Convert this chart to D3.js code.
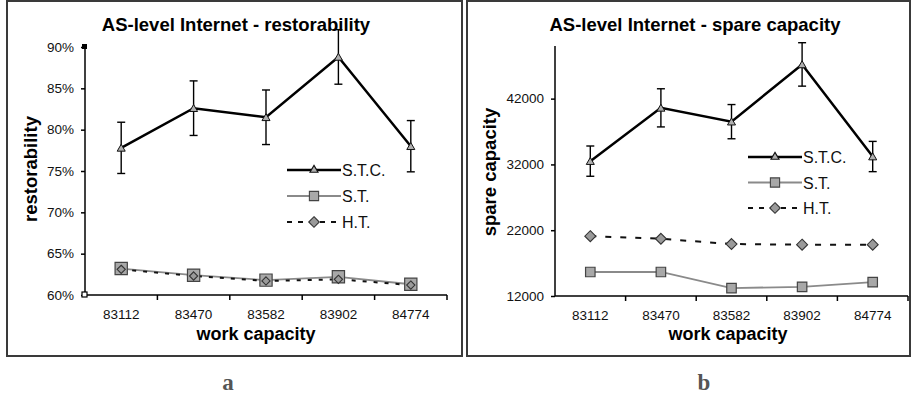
<!DOCTYPE html>
<html>
<head>
  <meta charset="utf-8">
  <script src="https://d3js.org/d3.v7.min.js"></script>
  <style>
    body { margin: 0; background: #fff; }
    text { font-family: "Liberation Sans", Arial, sans-serif; }
  </style>
</head>
<body>
<script>
// values
var workCapacity = ["83112", "83470", "83582", "83902", "84774"];
var seriesNames = ["S.T.C.", "S.T.", "H.T."];

var restorSTC = [77.8, 82.6, 81.5, 88.8, 78.0];
var restorSTCErr = [3.1, 3.3, 3.3, 3.3, 3.1];
var restorST = [63.2, 62.4, 61.8, 62.2, 61.3];
var restorHT = [63.1, 62.3, 61.7, 61.9, 61.2];
var restorTicks = [60, 65, 70, 75, 80, 85, 90];

var spareSTC = [32500, 40600, 38500, 47200, 33200];
var spareSTCErr = [2300, 2900, 2600, 3300, 2300];
var spareST = [15650, 15650, 13200, 13400, 14100];
var spareHT = [21100, 20700, 19900, 19800, 19800];
var spareTicks = [12000, 22000, 32000, 42000];

var svg = d3.select("body").append("svg")
  .attr("width", 912).attr("height", 399);

// square turned 45 degrees, like Excel's diamond marker
function diamond(size) {
  var h = Math.sqrt(size) / Math.SQRT2;
  return "M0," + (-h) + "L" + h + ",0L0," + h + "L" + (-h) + ",0Z";
}

function drawPanel(p) {
  var g = svg.append("g");

  // frame
  g.append("rect")
    .attr("x", p.box[0]).attr("y", p.box[1])
    .attr("width", p.box[2]).attr("height", p.box[3])
    .attr("fill", "none").attr("stroke", "#3a3a3a").attr("stroke-width", 2);

  var x = d3.scaleBand().domain(workCapacity).range([p.x0, p.x1]);
  var y = d3.scaleLinear().domain(p.domain).range([p.y0, p.y1]);
  var cx = function(i) { return x(workCapacity[i]) + x.bandwidth() / 2; };

  // title
  g.append("text")
    .attr("x", p.titleX).attr("y", 31)
    .attr("text-anchor", "middle")
    .style("font-size", "18.5px").style("font-weight", "bold")
    .text(p.title);

  // y axis
  var yAxis = d3.axisLeft(y).tickValues(p.ticks).tickSize(4).tickFormat(p.fmt);
  var ya = g.append("g").attr("transform", "translate(" + p.x0 + ",0)").call(yAxis);
  ya.select(".domain").attr("stroke", "#000").attr("stroke-width", 1.5)
    .attr("d", "M0," + p.y0 + "V" + y.range()[1]);
  ya.selectAll(".tick line").attr("stroke", "#000").attr("stroke-width", 1.5);
  ya.selectAll(".tick text").style("font-size", "13.5px").attr("fill", "#111").attr("x", -11);

  // x axis
  var xa = g.append("g").attr("transform", "translate(0," + p.y0 + ")");
  xa.append("line").attr("x1", p.x0).attr("x2", p.x1)
    .attr("stroke", "#000").attr("stroke-width", 1.5);
  xa.selectAll(".xt").data(workCapacity).enter().append("line")
    .attr("x1", function(d) { return x(d) + x.bandwidth(); })
    .attr("x2", function(d) { return x(d) + x.bandwidth(); })
    .attr("y1", 0).attr("y2", 5)
    .attr("stroke", "#000").attr("stroke-width", 1.5);
  xa.selectAll(".xl").data(workCapacity).enter().append("text")
    .attr("x", function(d) { return x(d) + x.bandwidth() / 2; })
    .attr("y", p.tickY)
    .attr("text-anchor", "middle")
    .style("font-size", "13.5px").attr("fill", "#111")
    .text(function(d) { return d; });

  if (p.handles) {
    g.append("rect").attr("x", p.x0 - 3).attr("y", y.range()[1] - 3)
      .attr("width", 5).attr("height", 5).attr("fill", "#000");
    g.append("rect").attr("x", p.x0 - 3).attr("y", p.y0 - 3)
      .attr("width", 5).attr("height", 5).attr("fill", "#fff")
      .attr("stroke", "#000").attr("stroke-width", 1.2);
  }

  // axis titles
  g.append("text")
    .attr("x", p.xLabelX).attr("y", 340)
    .attr("text-anchor", "middle")
    .style("font-size", "18px").style("font-weight", "bold")
    .text("work capacity");
  g.append("text")
    .attr("transform", "translate(" + p.yLabelX + "," + p.yLabelY + ") rotate(-90)")
    .attr("text-anchor", "middle")
    .style("font-size", "18.5px").style("font-weight", "bold")
    .text(p.yLabel);

  var line = d3.line().x(function(d, i) { return cx(i); }).y(function(d) { return y(d); });

  // S.T. (thin gray)
  g.append("path").datum(p.st).attr("d", line)
    .attr("fill", "none").attr("stroke", "#8a8a8a").attr("stroke-width", 1.8);
  // H.T. (dashed)
  g.append("path").datum(p.ht).attr("d", line)
    .attr("fill", "none").attr("stroke", "#111").attr("stroke-width", 2)
    .attr("stroke-dasharray", p.dash);
  // S.T.C. (thick black)
  g.append("path").datum(p.stc).attr("d", line)
    .attr("fill", "none").attr("stroke", "#000").attr("stroke-width", 2.5);

  // error bars
  var eb = g.selectAll(".eb").data(p.stc).enter().append("g");
  eb.append("line")
    .attr("x1", function(d, i) { return cx(i); }).attr("x2", function(d, i) { return cx(i); })
    .attr("y1", function(d, i) { return y(d + p.err[i]); })
    .attr("y2", function(d, i) { return y(d - p.err[i]); })
    .attr("stroke", "#000").attr("stroke-width", 1.4);
  [1, -1].forEach(function(s) {
    eb.append("line")
      .attr("x1", function(d, i) { return cx(i) - 4; }).attr("x2", function(d, i) { return cx(i) + 4; })
      .attr("y1", function(d, i) { return y(d + s * p.err[i]); })
      .attr("y2", function(d, i) { return y(d + s * p.err[i]); })
      .attr("stroke", "#000").attr("stroke-width", 1.4);
  });

  var sq = d3.symbol().type(d3.symbolSquare).size(p.sqSize);
  var tr = d3.symbol().type(d3.symbolTriangle).size(28);

  g.selectAll(".sq").data(p.st).enter().append("path")
    .attr("d", sq)
    .attr("transform", function(d, i) { return "translate(" + cx(i) + "," + y(d) + ")"; })
    .attr("fill", "#a8a8a8").attr("stroke", "#444").attr("stroke-width", 1.2);
  g.selectAll(".di").data(p.ht).enter().append("path")
    .attr("d", diamond(p.diSize))
    .attr("transform", function(d, i) { return "translate(" + cx(i) + "," + y(d) + ")"; })
    .attr("fill", "#9a9a9a").attr("stroke", "#333").attr("stroke-width", 1.1);
  g.selectAll(".tr").data(p.stc).enter().append("path")
    .attr("d", tr)
    .attr("transform", function(d, i) { return "translate(" + cx(i) + "," + (y(d) + 1) + ")"; })
    .attr("fill", "#b0b0b0").attr("stroke", "#111").attr("stroke-width", 1);

  // legend
  var lg = g.append("g").attr("transform", "translate(" + p.legend[0] + "," + p.legend[1] + ")");
  var styles = [
    { stroke: "#000", w: 2.5, dash: null, d: tr(), fill: "#b0b0b0", sc: "#111" },
    { stroke: "#8a8a8a", w: 1.8, dash: null, d: d3.symbol().type(d3.symbolSquare).size(85)(), fill: "#a8a8a8", sc: "#444" },
    { stroke: "#111", w: 2, dash: "5,6", d: diamond(56), fill: "#9a9a9a", sc: "#333" }
  ];
  seriesNames.forEach(function(name, k) {
    var st = styles[k];
    var yy = k * p.legendStep;
    lg.append("line").attr("x1", 0).attr("x2", 54).attr("y1", yy).attr("y2", yy)
      .attr("stroke", st.stroke).attr("stroke-width", st.w)
      .attr("stroke-dasharray", st.dash);
    lg.append("path").attr("d", st.d).attr("transform", "translate(27," + yy + ")")
      .attr("fill", st.fill).attr("stroke", st.sc).attr("stroke-width", 1.1);
    lg.append("text").attr("x", 55).attr("y", yy + 6)
      .style("font-size", "16px").attr("fill", "#111").text(name);
  });

  // panel letter
  g.append("text")
    .attr("x", p.letterX).attr("y", 390)
    .attr("text-anchor", "middle")
    .style("font-family", "'Liberation Serif', 'DejaVu Serif', serif")
    .style("font-size", "23px").style("font-weight", "bold").attr("fill", "#555")
    .text(p.letter);
}

drawPanel({
  box: [7, 1, 455, 355],
  x0: 85, x1: 447, y0: 295, y1: 47,
  domain: [60, 90], ticks: restorTicks,
  fmt: function(d) { return d + "%"; },
  title: "AS-level Internet - restorability", titleX: 236,
  yLabel: "restorability", yLabelX: 37, yLabelY: 169,
  xLabelX: 256, tickY: 24,
  stc: restorSTC, err: restorSTCErr, st: restorST, ht: restorHT,
  dash: "4,7", sqSize: 150, diSize: 34,
  legend: [287, 170], legendStep: 26,
  handles: true,
  letter: "a", letterX: 228
});

drawPanel({
  box: [467, 1, 443, 355],
  x0: 555, x1: 908, y0: 296, y1: 46,
  domain: [12000, 50000], ticks: spareTicks,
  fmt: function(d) { return d; },
  title: "AS-level Internet - spare capacity", titleX: 695,
  yLabel: "spare capacity", yLabelX: 496, yLabelY: 172,
  xLabelX: 728, tickY: 24,
  stc: spareSTC, err: spareSTCErr, st: spareST, ht: spareHT,
  dash: "6,9", sqSize: 90, diSize: 60,
  legend: [748, 157], legendStep: 25.5,
  handles: false,
  letter: "b", letterX: 704
});
</script>
</body>
</html>
